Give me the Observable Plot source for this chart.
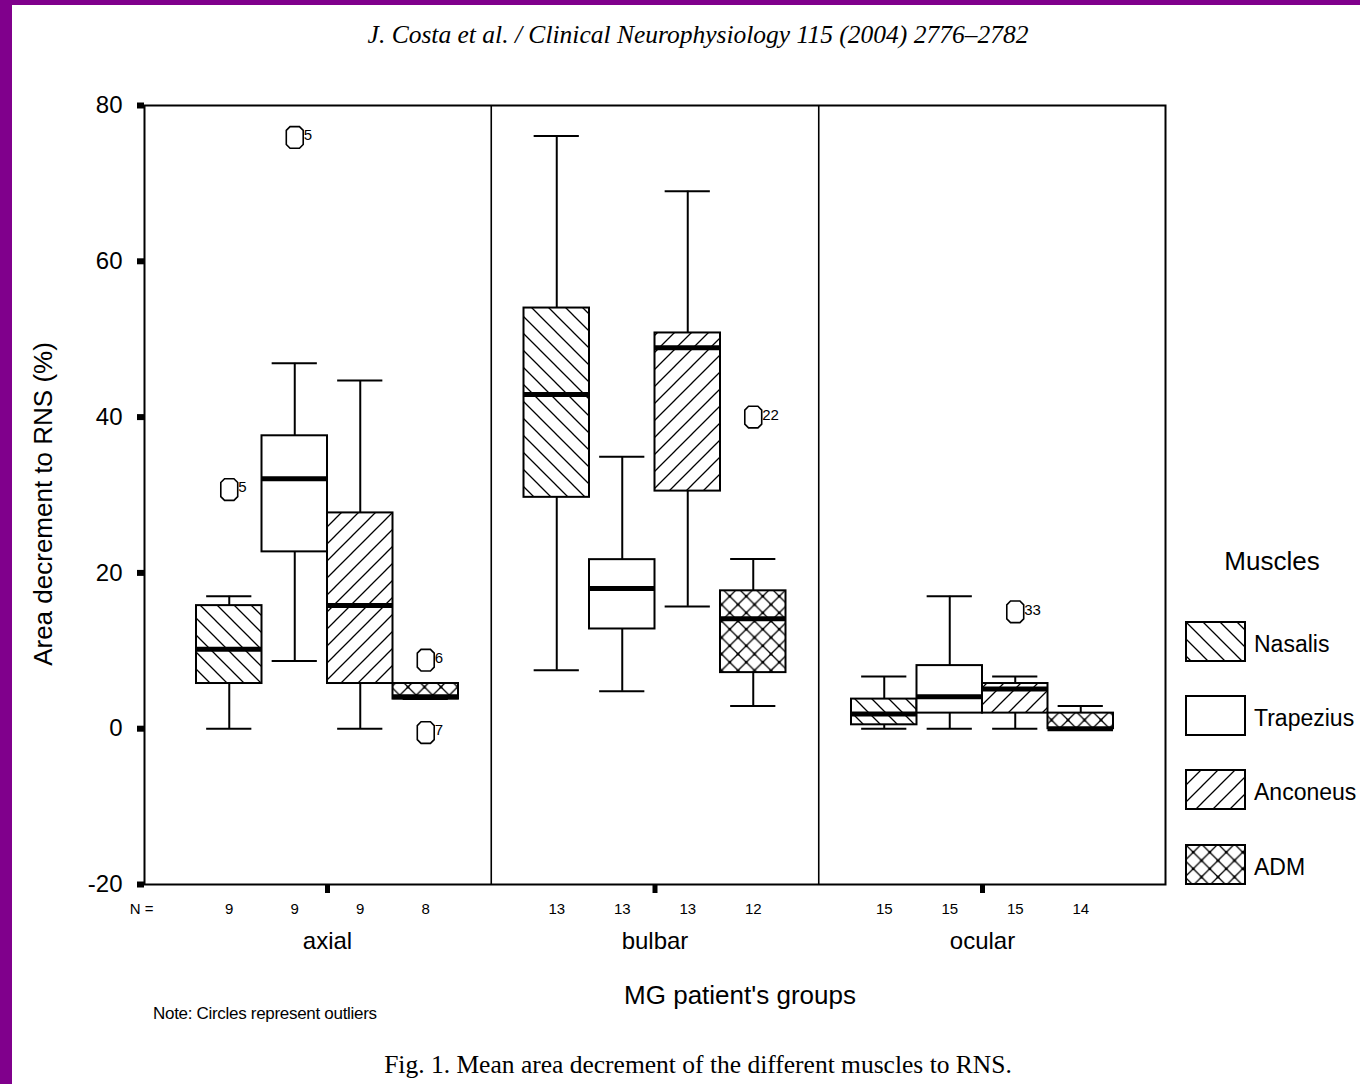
<!DOCTYPE html>
<html>
<head>
<meta charset="utf-8">
<script src="https://cdn.jsdelivr.net/npm/d3@7"></script>
<script src="https://cdn.jsdelivr.net/npm/@observablehq/plot@0.6"></script>
<style>
  html, body { margin: 0; padding: 0; background: #fff; }
  #page { position: relative; width: 1360px; height: 1084px; overflow: hidden; background: #fff;
          font-family: "Liberation Sans", Arial, sans-serif; color: #000; }
  .bar-left { position: absolute; left: 0; top: 0; width: 12px; height: 1084px; background: #80008c; }
  .bar-top { position: absolute; left: 0; top: 0; width: 1360px; height: 5px; background: #80008c; }
  .abs { position: absolute; white-space: nowrap; line-height: 1; }
  #header { left: 698px; top: 35px; transform: translate(-50%, -50%);
            font: italic 25.5px "Liberation Serif", "Times New Roman", serif; }
  #caption { left: 698px; top: 1065px; transform: translate(-50%, -50%);
             font: 25.5px "Liberation Serif", "Times New Roman", serif; }
  #ylabel { left: 43px; top: 504px; transform: translate(-50%, -50%) rotate(-90deg); font-size: 26px; }
  #xlabel { left: 740px; top: 995px; transform: translate(-50%, -50%); font-size: 26px; }
  #note { left: 153px; top: 1013px; transform: translateY(-50%); font-size: 17px; letter-spacing: -0.3px; }
  #chart { position: absolute; left: 12px; top: 60px; }
  #legend-title { left: 1272px; top: 561px; transform: translate(-50%, -50%); font-size: 26px; }
  .legend-item { position: absolute; left: 1185px; height: 40px; display: flex; align-items: center; white-space: nowrap; }
  .legend-item svg { display: block; }
  .legend-item span { margin-left: 8px; font-size: 23px; position: relative; top: 3px; }
</style>
</head>
<body>
<div id="page">
  <div class="bar-left"></div>
  <div class="bar-top"></div>

  <!-- fill patterns shared by the boxes and the legend swatches -->
  <svg width="0" height="0" style="position:absolute;left:0;top:0">
    <defs>
      <pattern id="hatch-back" patternUnits="userSpaceOnUse" width="17" height="17">
        <rect width="17" height="17" fill="white"/>
        <path d="M0,0L17,17M-2,15L2,19M15,-2L19,2" stroke="black" stroke-width="1.3"/>
      </pattern>
      <pattern id="hatch-fwd" patternUnits="userSpaceOnUse" width="17" height="17">
        <rect width="17" height="17" fill="white"/>
        <path d="M0,17L17,0M-2,2L2,-2M15,19L19,15" stroke="black" stroke-width="1.3"/>
      </pattern>
      <pattern id="crosshatch" patternUnits="userSpaceOnUse" width="16.5" height="16.5">
        <rect width="16.5" height="16.5" fill="white"/>
        <path d="M0,0L16.5,16.5M16.5,0L0,16.5" stroke="black" stroke-width="1.3"/>
        <circle cx="8.25" cy="8.25" r="1.5"/>
        <circle cx="0" cy="0" r="1.5"/><circle cx="16.5" cy="0" r="1.5"/>
        <circle cx="0" cy="16.5" r="1.5"/><circle cx="16.5" cy="16.5" r="1.5"/>
      </pattern>
    </defs>
  </svg>

  <div id="header" class="abs">J. Costa et al. / Clinical Neurophysiology 115 (2004) 2776–2782</div>
  <div id="ylabel" class="abs">Area decrement to RNS (%)</div>
  <div id="chart"></div>
  <div id="xlabel" class="abs">MG patient's groups</div>
  <div id="note" class="abs">Note: Circles represent outliers</div>
  <div id="legend-title" class="abs">Muscles</div>
  <div id="legend"></div>
  <div id="caption" class="abs">Fig. 1. Mean area decrement of the different muscles to RNS.</div>
</div>

<script>
// Patient groups and muscles (boxes are clustered by group, one box per muscle)
const groups = ["axial", "bulbar", "ocular"];
const muscles = ["Nasalis", "Trapezius", "Anconeus", "ADM"];

// Number of patients behind each box, in muscle order
const nAxial = [9, 9, 9, 8];
const nBulbar = [13, 13, 13, 12];
const nOcular = [15, 15, 15, 14];

// Box summaries per muscle: [lower whisker, Q1, median, Q3, upper whisker]
const axialStats = [
  [0, 5.8, 10.2, 15.8, 17.0],
  [8.7, 22.7, 32.1, 37.6, 46.9],
  [0, 5.8, 15.8, 27.7, 44.7],
  [3.8, 3.8, 4.1, 5.8, 5.8]
];
const bulbarStats = [
  [7.5, 29.7, 42.9, 54.0, 76.1],
  [4.8, 12.8, 18.0, 21.7, 34.9],
  [15.7, 30.5, 48.9, 50.8, 69.0],
  [2.9, 7.2, 14.1, 17.7, 21.8]
];
const ocularStats = [
  [0, 0.5, 1.9, 3.8, 6.7],
  [0, 2.0, 4.1, 8.1, 17.0],
  [0, 2.0, 5.1, 5.8, 6.7],
  [0, 0, 0, 2.0, 2.9]
];

// Outliers with their case numbers
const outlierGroup = ["axial", "axial", "axial", "axial", "bulbar", "ocular"];
const outlierMuscle = ["Trapezius", "Nasalis", "ADM", "ADM", "ADM", "Anconeus"];
const outlierValue = [75.9, 30.7, 8.8, -0.5, 40.0, 15.0];
const outlierCase = ["5", "5", "6", "7", "22", "33"];

// Y axis ticks
const yTicks = [-20, 0, 20, 40, 60, 80];

// ---- tables for the marks ----
const counts = [nAxial, nBulbar, nOcular];
const stats = [axialStats, bulbarStats, ocularStats];
const boxes = [];
groups.forEach((g, gi) => {
  stats[gi].forEach(([lo, q1, med, q3, hi], mi) => {
    boxes.push({group: g, muscle: muscles[mi], n: counts[gi][mi], lo, q1, med, q3, hi});
  });
});
const outliers = outlierValue.map((v, i) => ({
  group: outlierGroup[i], muscle: outlierMuscle[i], value: v, label: outlierCase[i]
}));

// Each group occupies one slot per muscle plus one empty slot as a gap
const slotsPerGroup = muscles.length + 1;
const lastSlotEnd = groups.length * slotsPerGroup - 1;
const sidePad = 0.794;
const boxStart = d => groups.indexOf(d.group) * slotsPerGroup + muscles.indexOf(d.muscle);
const boxEnd = d => boxStart(d) + 1;
const boxMid = d => boxStart(d) + 0.5;
const groupMid = g => groups.indexOf(g) * slotsPerGroup + muscles.length / 2;
const capHalf = 0.345;

// Outlier glyph: a slightly tall octagonal "O"
const ovalSymbol = {
  draw(context, size) {
    const r = Math.sqrt(size / Math.PI);
    const w = r * 0.94, h = r * 1.2, c = r * 0.42;
    context.moveTo(-w + c, -h);
    context.lineTo(w - c, -h);
    context.lineTo(w, -h + c);
    context.lineTo(w, h - c);
    context.lineTo(w - c, h);
    context.lineTo(-w + c, h);
    context.lineTo(-w, h - c);
    context.lineTo(-w, -h + c);
    context.closePath();
  }
};

const fills = ["url(#hatch-back)", "white", "url(#hatch-fwd)", "url(#crosshatch)"];

const chart = Plot.plot({
  width: 1348,
  height: 910,
  marginLeft: 132,
  marginRight: 195,
  marginTop: 45,
  marginBottom: 86,
  style: {fontFamily: "'Liberation Sans', Arial, sans-serif", fontSize: "24px", color: "black", background: "transparent", overflow: "visible"},
  x: {domain: [-sidePad, lastSlotEnd + sidePad]},
  y: {domain: [-20, 80]},
  color: {domain: muscles, range: fills},
  marks: [
    Plot.frame({stroke: "black", strokeWidth: 2}),
    Plot.ruleX(groups.slice(1), {x: g => groups.indexOf(g) * slotsPerGroup - 0.5, stroke: "black", strokeWidth: 1.6}),
    // whiskers and caps
    Plot.ruleX(boxes, {x: boxMid, y1: "lo", y2: "q1", stroke: "black", strokeWidth: 2}),
    Plot.ruleX(boxes, {x: boxMid, y1: "q3", y2: "hi", stroke: "black", strokeWidth: 2}),
    Plot.ruleY(boxes, {y: "lo", x1: d => boxMid(d) - capHalf, x2: d => boxMid(d) + capHalf, stroke: "black", strokeWidth: 2}),
    Plot.ruleY(boxes, {y: "hi", x1: d => boxMid(d) - capHalf, x2: d => boxMid(d) + capHalf, stroke: "black", strokeWidth: 2}),
    // interquartile boxes
    Plot.rect(boxes, {x1: boxStart, x2: boxEnd, y1: "q1", y2: "q3", fill: "muscle", stroke: "black", strokeWidth: 2}),
    // medians
    Plot.ruleY(boxes, {y: "med", x1: boxStart, x2: boxEnd, stroke: "black", strokeWidth: 5}),
    // outliers
    Plot.dot(outliers, {x: boxMid, y: "value", r: 9, symbol: ovalSymbol, stroke: "black", strokeWidth: 1.6, fill: "none"}),
    Plot.text(outliers, {x: boxMid, y: "value", text: "label", dx: 9, dy: -2, textAnchor: "start", fontSize: 15}),
    // axes
    Plot.axisY(yTicks, {tickSize: 7, tickPadding: 15, strokeWidth: 6, fontSize: 24, tickFormat: d => String(d), label: null}),
    Plot.axisX(groups.map(groupMid), {tickSize: 9, strokeWidth: 5, tickFormat: () => "", label: null}),
    // sample sizes and group names under the frame
    Plot.text(["N ="], {text: d => d, frameAnchor: "bottom-left", dx: -3, dy: 29, textAnchor: "middle", fontSize: 15}),
    Plot.text(boxes, {x: boxMid, text: "n", frameAnchor: "bottom", dy: 29, fontSize: 15}),
    Plot.text(groups, {x: groupMid, text: d => d, frameAnchor: "bottom", dy: 64, fontSize: 24})
  ]
});
document.getElementById("chart").appendChild(chart);

// Legend for the muscle fills
const legend = document.getElementById("legend");
muscles.forEach((m, i) => {
  const item = document.createElement("div");
  item.className = "legend-item";
  item.style.top = (621 + i * 74.4) + "px";
  item.innerHTML = `<svg width="61" height="41"><rect x="1" y="1" width="59" height="39" fill="${fills[i]}" stroke="black" stroke-width="2"/></svg><span>${m}</span>`;
  legend.appendChild(item);
});
</script>
</body>
</html>
